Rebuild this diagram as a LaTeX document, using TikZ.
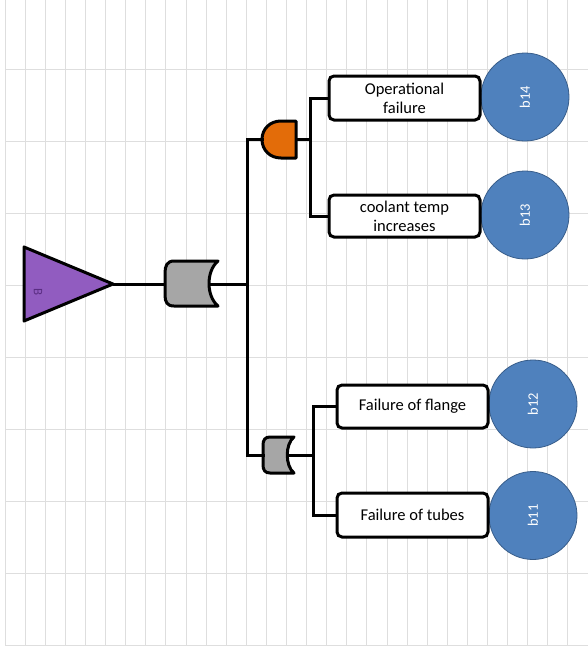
\documentclass[tikz,border=0pt]{standalone}
\usepackage{fontspec}
\setmainfont{Carlito}
\begin{document}
\begin{tikzpicture}[x=1pt,y=-1pt,
  gridline/.style={draw=black!13, line width=0.8pt},
  wire/.style={draw=black, line width=3pt},
  gateline/.style={draw=black, line width=3pt, line join=round},
  evbox/.style={draw=black, line width=3pt, rounded corners=5pt, fill=white,
    minimum width=151pt, inner sep=0pt, align=center,
    font=\fontsize{16.5}{19}\selectfont},
  basic/.style={circle, draw=bluedark, line width=0.8pt, fill=blueev,
    minimum size=88pt, inner sep=0pt, text=white,
    font=\fontsize{14.5}{16}\selectfont}
]
\definecolor{blueev}{RGB}{79,129,189}
\definecolor{bluedark}{RGB}{56,93,138}
\definecolor{orgate}{RGB}{166,166,166}
\definecolor{andgate}{RGB}{227,108,9}
\definecolor{transfer}{RGB}{145,92,192}
\definecolor{transtext}{RGB}{90,45,130}
\useasboundingbox (0,0) rectangle (588,651);
% grid
\foreach \i in {0,...,28} {
  \draw[gridline] ({5+20.1*\i},0) -- ({5+20.1*\i},645);
}
\foreach \j in {0,...,8} {
  \draw[gridline] (5,{69+72*\j}) -- (588,{69+72*\j});
}
% transfer triangle
\coordinate (tip) at (113,284);
\draw[gateline, fill=transfer] (24,247) -- (tip) -- (24,321) -- cycle;
\node[rotate=-90, text=transtext, font=\fontsize{13}{13}\selectfont] (blabel) at (38,292) {B};
% top OR gate
\coordinate (or1in) at (165,284);
\coordinate (or1out) at (209,284);
\draw[gateline, fill=orgate] (218,261) -- (174,261) .. controls (167,261) and (165,266) .. (165,273)
  -- (165,295) .. controls (165,302) and (167,306) .. (174,306) -- (218,306)
  .. controls (206,296) and (206,271) .. (218,261) -- cycle;
% bus
\coordinate (bus) at (247,284);
\coordinate (busT) at (247,139.5);
\coordinate (busB) at (247,455);
% AND gate
\coordinate (andin) at (262,139.5);
\coordinate (andout) at (296,139.5);
\draw[gateline, fill=andgate] (296,121) -- (281,121) .. controls (270,121) and (262,129) .. (262,139.5)
  .. controls (262,150) and (270,158) .. (281,158) -- (296,158) -- cycle;
% small OR gate
\coordinate (or2in) at (263,455);
\coordinate (or2out) at (288,455);
\draw[gateline, fill=orgate] (294,437) -- (270,437) .. controls (265,437) and (263,440) .. (263,445)
  -- (263,465) .. controls (263,470) and (265,473) .. (270,473) -- (294,473)
  .. controls (285,466) and (285,444) .. (294,437) -- cycle;
% junctions
\coordinate (jA) at (310,139.5);
\coordinate (jB) at (313,455);
% basic events
\node[basic] (b14) at (525,97) {\rotatebox{90}{b14}};
\node[basic] (b13) at (525,215) {\rotatebox{90}{b13}};
\node[basic] (b12) at (533,404) {\rotatebox{90}{b12}};
\node[basic] (b11) at (533,515.5) {\rotatebox{90}{b11}};
% boxes
\node[evbox, minimum height=44pt] (e1) at (404.5,98) {Operational\\failure};
\node[evbox, minimum height=42pt] (e2) at (404.5,216) {coolant temp\\increases};
\node[evbox, minimum height=43pt] (e3) at (412.5,406.5) {Failure of flange};
\node[evbox, minimum height=44pt] (e4) at (412.5,515) {Failure of tubes};
% wires
\draw[wire] (tip) -- (or1in);
\draw[wire] (or1out) -- (bus);
\draw[wire, line cap=rect] (andin) -- (busT) -- (busB) -- (or2in);
\draw[wire] (andout) -- (jA);
\draw[wire] (e1.west) -| (jA) |- (e2.west);
\draw[wire] (or2out) -- (jB);
\draw[wire] (e3.west) -| (jB) |- (e4.west);
\end{tikzpicture}
\end{document}
